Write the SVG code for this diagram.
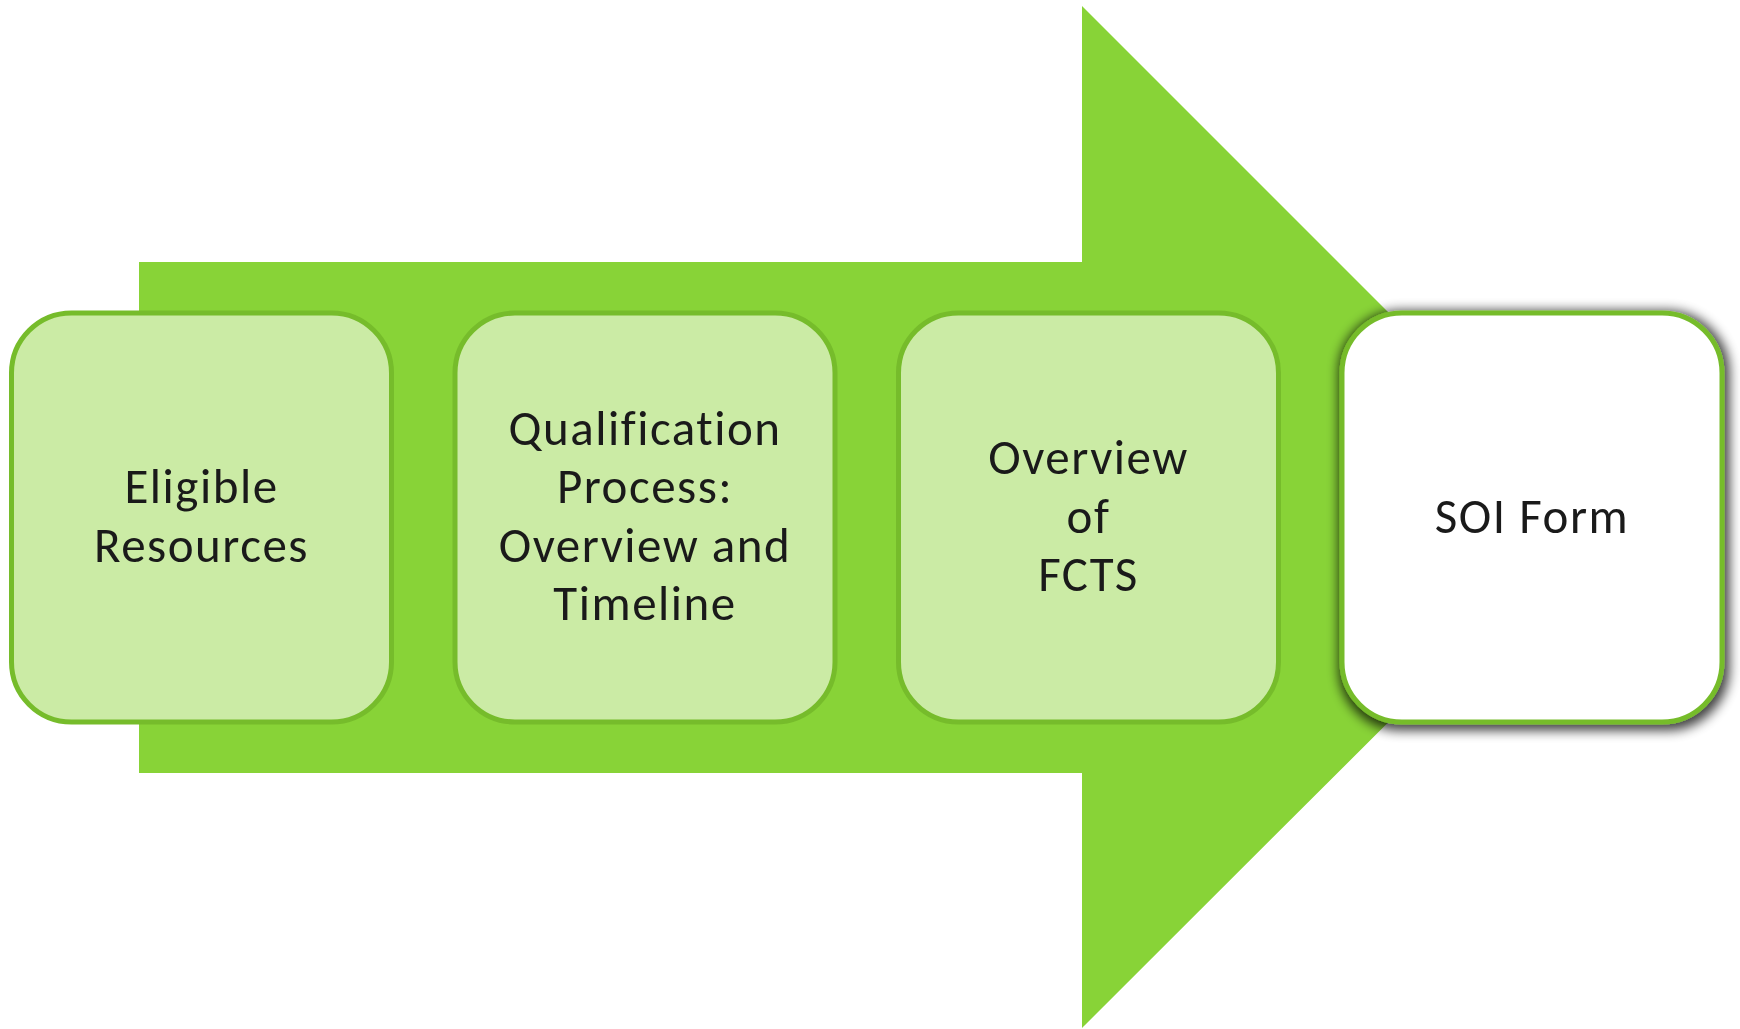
<svg xmlns="http://www.w3.org/2000/svg" width="1740" height="1029" viewBox="0 0 1740 1029">
<defs>
<style>
.box{fill:#CBEBA5;stroke:#76BC2B;stroke-width:5}
.box4{fill:#FFFFFF;stroke:#76BC2B;stroke-width:5}
.t{font-family:"Carlito","Lato","Liberation Sans",sans-serif;font-size:49px;letter-spacing:1.5px;fill:#1A1A1A;text-anchor:middle}
</style>
<filter id="sh" x="-20%" y="-20%" width="140%" height="140%">
<feMorphology in="SourceAlpha" operator="dilate" radius="3"/>
<feGaussianBlur stdDeviation="6"/>
<feOffset dx="2" dy="3" result="b"/>
<feComponentTransfer><feFuncA type="linear" slope="0.75"/></feComponentTransfer>
<feMerge><feMergeNode/><feMergeNode in="SourceGraphic"/></feMerge>
</filter>
</defs>
<rect width="1740" height="1029" fill="#FFFFFF"/>
<g id="connectors">
<polygon points="139,262 1082,262 1082,6 1593.5,517.5 1082,1028 1082,773 139,773" fill="#88D337"/>
</g>
<g id="node1">
<rect class="box" x="11.5" y="313" width="380" height="409" rx="60" ry="60"/>
<text class="t" x="201.5" y="503">Eligible</text>
<text class="t" x="201.5" y="561.5">Resources</text>
</g>
<g id="node2">
<rect class="box" x="455" y="313" width="380" height="409" rx="60" ry="60"/>
<text class="t" x="645" y="445">Qualification</text>
<text class="t" x="645" y="503">Process:</text>
<text class="t" x="645" y="561.5">Overview and</text>
<text class="t" x="645" y="620">Timeline</text>
</g>
<g id="node3">
<rect class="box" x="898.5" y="313" width="380" height="409" rx="60" ry="60"/>
<text class="t" x="1088.5" y="474">Overview</text>
<text class="t" x="1088.5" y="532.5">of</text>
<text class="t" x="1088.5" y="591">FCTS</text>
</g>
<g id="node4">
<rect class="box4" x="1342" y="313" width="380" height="409" rx="60" ry="60" filter="url(#sh)"/>
<text class="t" x="1532" y="532.5">SOI Form</text>
</g>
</svg>
